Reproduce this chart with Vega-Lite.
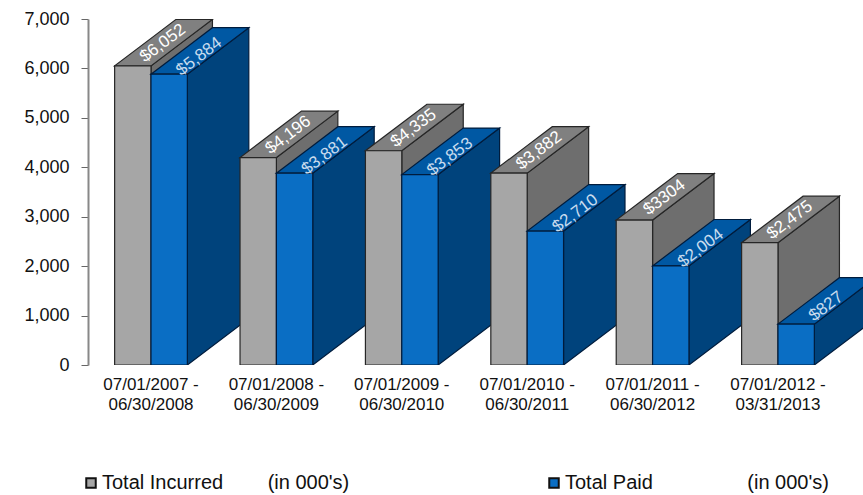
{
"$schema":"https://vega.github.io/schema/vega-lite/v6.json",
"width":775,"height":346,"autosize":"none",
"padding":{"left":88,"top":19,"right":0,"bottom":130},
"background":"white",
"config":{"view":{"stroke":null},"font":"Liberation Sans"},
"data":{"values":[
{"i":0,"period":"07/01/2007 -\n06/30/2008","series":"Total Incurred","value":6052,"label":"$6,052"},
{"i":0,"period":"07/01/2007 -\n06/30/2008","series":"Total Paid","value":5884,"label":"$5,884"},
{"i":1,"period":"07/01/2008 -\n06/30/2009","series":"Total Incurred","value":4196,"label":"$4,196"},
{"i":1,"period":"07/01/2008 -\n06/30/2009","series":"Total Paid","value":3881,"label":"$3,881"},
{"i":2,"period":"07/01/2009 -\n06/30/2010","series":"Total Incurred","value":4335,"label":"$4,335"},
{"i":2,"period":"07/01/2009 -\n06/30/2010","series":"Total Paid","value":3853,"label":"$3,853"},
{"i":3,"period":"07/01/2010 -\n06/30/2011","series":"Total Incurred","value":3882,"label":"$3,882"},
{"i":3,"period":"07/01/2010 -\n06/30/2011","series":"Total Paid","value":2710,"label":"$2,710"},
{"i":4,"period":"07/01/2011 -\n06/30/2012","series":"Total Incurred","value":2933,"label":"$3304"},
{"i":4,"period":"07/01/2011 -\n06/30/2012","series":"Total Paid","value":2004,"label":"$2,004"},
{"i":5,"period":"07/01/2012 -\n03/31/2013","series":"Total Incurred","value":2475,"label":"$2,475"},
{"i":5,"period":"07/01/2012 -\n03/31/2013","series":"Total Paid","value":827,"label":"$827"}
]},
"transform":[
{"calculate":"datum.i-(datum.series=='Total Incurred'?0.29:0)","as":"x0"},
{"calculate":"datum.x0+0.29","as":"x1"}
],
"layer":[
{"mark":{"type":"area","strokeWidth":1.2,"clip":true},
"transform":[
{"calculate":"[0,1,2]","as":"face"},{"flatten":["face"]},
{"calculate":"[0,1,2,3]","as":"k"},{"flatten":["k"]},
{"calculate":"datum.face==0?(datum.k<2?datum.x1:datum.x1+0.49):datum.face==2?(datum.k<2?datum.x0:datum.x1):[datum.x0,datum.x1,datum.x0+0.49,datum.x1+0.49][datum.k]","as":"px"},
{"calculate":"datum.face==0?(datum.k<2?0:940):datum.face==2?0:[datum.value,datum.value,datum.value+940*0.2/0.49,datum.value+940][datum.k]","as":"lo"},
{"calculate":"datum.face==0?(datum.k<2?datum.value:datum.value+940):datum.face==2?datum.value:[datum.value,datum.value+940*0.29/0.49,datum.value+940,datum.value+940][datum.k]","as":"hi"},
{"calculate":"datum.face==2?datum.series:datum.series+(datum.face==0?' side':' top')","as":"kind"},
{"calculate":"datum.i+' '+datum.series+' '+datum.face","as":"faceId"}
],
"encoding":{
"x":{"field":"px","type":"quantitative","scale":{"domain":[-0.5024,5.678],"nice":false,"zero":false},"axis":null},
"y":{"field":"lo","type":"quantitative","scale":{"domain":[0,7000],"nice":false},
"axis":{"values":[0,1000,2000,3000,4000,5000,6000,7000],"format":",d","title":null,"grid":false,"labelFontSize":18,"labelColor":"#111","labelPadding":12,"tickSize":7,"tickColor":"#666","tickWidth":1,"domainColor":"#888","domainWidth":2}},
"y2":{"field":"hi"},
"detail":{"field":"faceId"},
"fill":{"field":"kind","type":"nominal","scale":{
"domain":["Total Incurred","Total Paid","Total Incurred side","Total Incurred top","Total Paid side","Total Paid top"],
"range":["#a6a6a6","#0a6ec4","#6e6e6e","#808080","#00437c","#0058a3"]},
"legend":{"values":["Total Incurred","Total Paid"],"title":null,"orient":"none","legendX":-7,"legendY":454,"columns":2,"columnPadding":194,"labelLimit":400,
"symbolType":"square","symbolSize":90,"symbolStrokeColor":"#111","symbolStrokeWidth":2,"symbolOpacity":1,"labelFontSize":20,"labelColor":"#111","labelOffset":1,
"labelExpr":"datum.label=='Total Paid'?'Total Paid\u00a0\u00a0\u00a0\u00a0\u00a0\u00a0\u00a0\u00a0\u00a0\u00a0\u00a0\u00a0\u00a0\u00a0\u00a0\u00a0\u00a0(in 000\\'s)':'Total Incurred\u00a0\u00a0\u00a0\u00a0\u00a0\u00a0\u00a0\u00a0(in 000\\'s)'"}},
"stroke":{"field":"series","type":"nominal","scale":{"domain":["Total Incurred","Total Paid"],"range":["#262626","#001c3d"]},"legend":null}
}},
{"transform":[{"filter":"datum.series=='Total Incurred'"}],
"mark":{"type":"text","lineBreak":"\n","lineHeight":20,"baseline":"top","dy":12,"fontSize":17,"color":"#111"},
"encoding":{"x":{"field":"i","type":"quantitative"},"y":{"datum":0,"type":"quantitative"},"text":{"field":"period"}}},
{"transform":[{"filter":"datum.series=='Total Incurred'"},{"calculate":"datum.x0+0.39","as":"tx"},{"calculate":"datum.value+470","as":"ty"}],
"mark":{"type":"text","angle":323,"fontSize":17,"color":"#ffffff","dx":-1,"dy":0},
"encoding":{"x":{"field":"tx","type":"quantitative"},"y":{"field":"ty","type":"quantitative"},"text":{"field":"label"}}},
{"transform":[{"filter":"datum.series=='Total Paid'"},{"calculate":"datum.x0+0.39","as":"tx"},{"calculate":"datum.value+470","as":"ty"}],
"mark":{"type":"text","angle":323,"fontSize":17,"color":"#c9dcee","dx":-4,"dy":4},
"encoding":{"x":{"field":"tx","type":"quantitative"},"y":{"field":"ty","type":"quantitative"},"text":{"field":"label"}}}
]
}
